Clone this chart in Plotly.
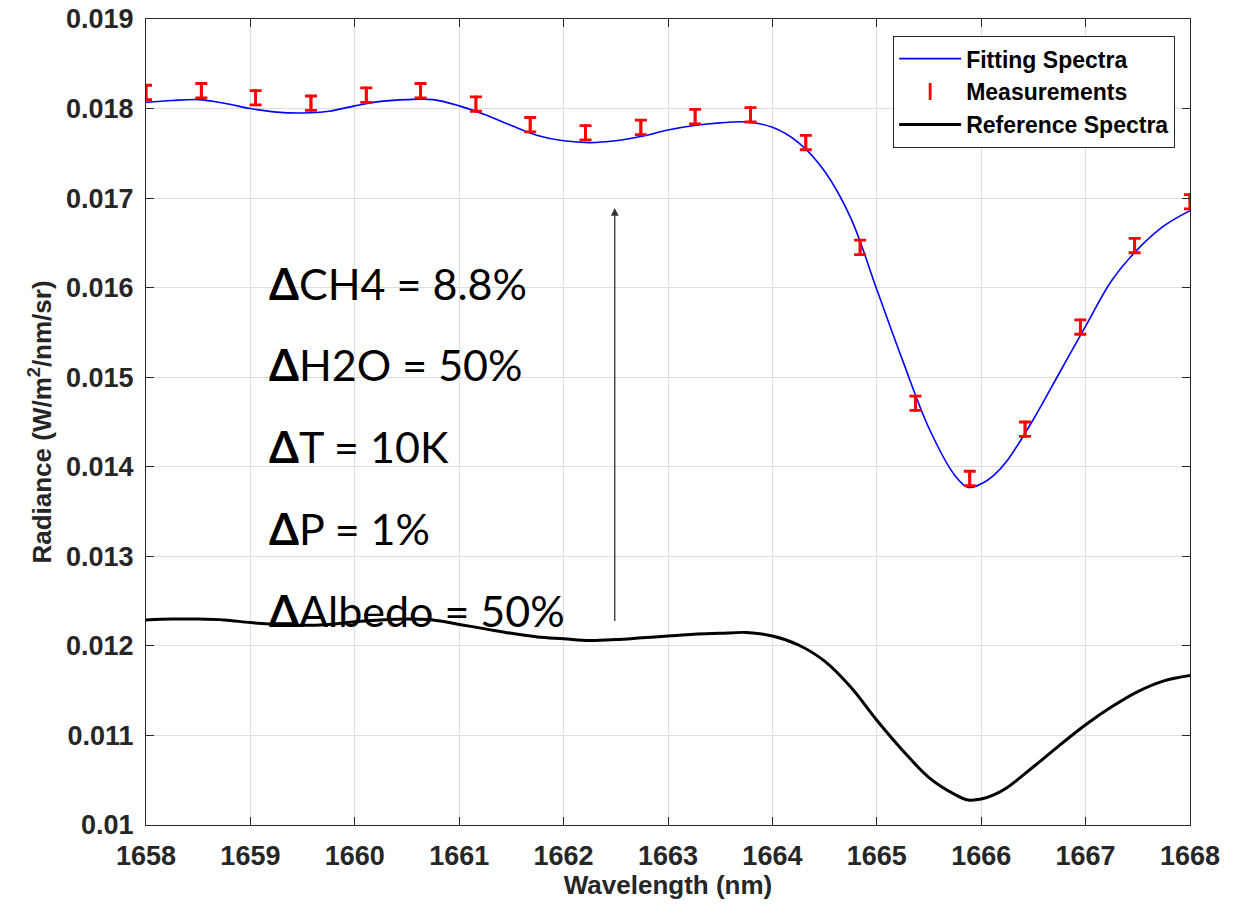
import plotly.graph_objects as go

# ---------------- data ----------------
wl_curve = [1658.00, 1658.25, 1658.50, 1658.75, 1659.00, 1659.25, 1659.50, 1659.75,
            1660.00, 1660.25, 1660.50, 1660.75, 1661.00, 1661.25, 1661.50, 1661.75,
            1662.00, 1662.25, 1662.50, 1662.75, 1663.00, 1663.25, 1663.50, 1663.75,
            1664.00, 1664.25, 1664.50, 1664.75, 1665.00, 1665.25, 1665.50, 1665.75,
            1665.875, 1666.00, 1666.125, 1666.25, 1666.50, 1666.75, 1667.00, 1667.25,
            1667.50, 1667.75, 1668.00]

fitting = [0.01807, 0.01809, 0.01810, 0.01806, 0.01800, 0.01796, 0.01795, 0.01797,
           0.01803, 0.01808, 0.01810, 0.01810, 0.01803, 0.01793, 0.01781, 0.01770,
           0.01764, 0.01762, 0.01764, 0.01769, 0.01776, 0.01781, 0.01784, 0.01785,
           0.01779, 0.01762, 0.01730, 0.01678, 0.01598, 0.01518, 0.01443, 0.01390,
           0.01377, 0.01381, 0.01391, 0.01407, 0.01453, 0.01505, 0.01557, 0.01608,
           0.01643, 0.01669, 0.01686]

reference = [0.01229, 0.01230, 0.01230, 0.01229, 0.01226, 0.01224, 0.01223, 0.01224,
             0.01227, 0.01229, 0.01230, 0.01229, 0.01224, 0.01219, 0.01214, 0.01210,
             0.01208, 0.01206, 0.01207, 0.01209, 0.01211, 0.01213, 0.01214, 0.01215,
             0.01211, 0.01201, 0.01183, 0.01154, 0.01117, 0.01083, 0.01053, 0.01034,
             0.01028, 0.01029, 0.01034, 0.01042, 0.01065, 0.01089, 0.01112, 0.01132,
             0.01149, 0.01161, 0.01167]

wl_meas = [1658.00, 1658.53, 1659.05, 1659.58, 1660.11, 1660.63, 1661.16, 1661.68,
           1662.21, 1662.74, 1663.26, 1663.79, 1664.32, 1664.84, 1665.37, 1665.89,
           1666.42, 1666.95, 1667.47, 1668.00]
meas = [0.01818, 0.01820, 0.01812, 0.01806, 0.01815, 0.01820, 0.01805, 0.01782,
        0.01773, 0.01779, 0.01791, 0.01793, 0.01762, 0.01645, 0.01471, 0.01387,
        0.01442, 0.01556, 0.01647, 0.01696]
meas_err = [0.00008] * 20

x_ticks = [1658, 1659, 1660, 1661, 1662, 1663, 1664, 1665, 1666, 1667, 1668]
y_ticks = [0.010, 0.011, 0.012, 0.013, 0.014, 0.015, 0.016, 0.017, 0.018, 0.019]
y_ticktext = ["0.01", "0.011", "0.012", "0.013", "0.014", "0.015", "0.016",
              "0.017", "0.018", "0.019"]

delta_names = ["CH4 = 8.8%", "H2O = 50%", "T = 10K", "P = 1%", "Albedo = 50%"]
delta_y = [0.01605, 0.01514, 0.01423, 0.01331, 0.01240]
delta_x = 1659.16

arrow_x = 1662.49
arrow_y0 = 0.01226
arrow_y1 = 0.01689

# ---------------- figure ----------------
fig = go.Figure()

fig.add_trace(go.Scatter(
    x=wl_curve, y=fitting, mode="lines", name="Fitting Spectra",
    line=dict(color="#0000ff", width=1.6, shape="spline", smoothing=1.0),
))
fig.add_trace(go.Scatter(
    x=wl_meas, y=meas, mode="markers", name="Measurements",
    marker=dict(symbol="line-ns", size=12, color="#ff0000",
                line=dict(color="#ff0000", width=2.8)),
    error_y=dict(type="data", array=meas_err, visible=True,
                 color="#ff0000", thickness=2.8, width=6),
))
fig.add_trace(go.Scatter(
    x=wl_curve, y=reference, mode="lines", name="Reference Spectra",
    line=dict(color="#000000", width=3, shape="spline", smoothing=1.0),
))

annotations = []
for name, yv in zip(delta_names, delta_y):
    annotations.append(dict(
        x=delta_x, y=yv, xref="x", yref="y", xanchor="left", yanchor="middle",
        text="<b>Δ</b>" + name, showarrow=False,
        font=dict(family="Lato", size=43, color="#000000"),
    ))
annotations.append(dict(
    x=arrow_x, y=arrow_y1, ax=arrow_x, ay=arrow_y0,
    xref="x", yref="y", axref="x", ayref="y",
    text="", showarrow=True, arrowhead=2, arrowsize=1.2, arrowwidth=1.3,
    arrowcolor="#333333",
))

axis_common = dict(
    showline=True, linecolor="#262626", linewidth=1.2, mirror="allticks",
    ticks="inside", ticklen=8, tickcolor="#262626", tickwidth=1,
    showgrid=True, gridcolor="#dedede", gridwidth=1, zeroline=False,
    automargin=False,
    tickfont=dict(family="Liberation Sans", size=27, color="#262626", weight="bold"),
)

fig.update_layout(
    width=1248, height=913,
    margin=dict(l=146, r=58, t=19, b=88),
    paper_bgcolor="white", plot_bgcolor="white",
    font=dict(family="Liberation Sans", color="#262626"),
    xaxis=dict(
        range=[1658, 1668], tickvals=x_ticks, ticklabelstandoff=6,
        title=dict(text="Wavelength (nm)", standoff=6,
                   font=dict(family="Liberation Sans", size=26, color="#262626", weight="bold")),
        **axis_common,
    ),
    yaxis=dict(
        range=[0.010, 0.019], tickvals=y_ticks, ticktext=y_ticktext, ticklabelstandoff=6,
        title=dict(text="Radiance (W/m<sup>2</sup>/nm/sr)", standoff=6,
                   font=dict(family="Liberation Sans", size=26, color="#262626", weight="bold")),
        **axis_common,
    ),
    legend=dict(
        x=0.9856, y=0.979, xanchor="right", yanchor="top",
        bgcolor="white", bordercolor="#262626", borderwidth=1.2,
        font=dict(family="Liberation Sans", size=23, color="#000000", weight="bold"),
        itemwidth=62, tracegroupgap=0,
    ),
    annotations=annotations,
    showlegend=True,
)

fig.write_html("out.html")
